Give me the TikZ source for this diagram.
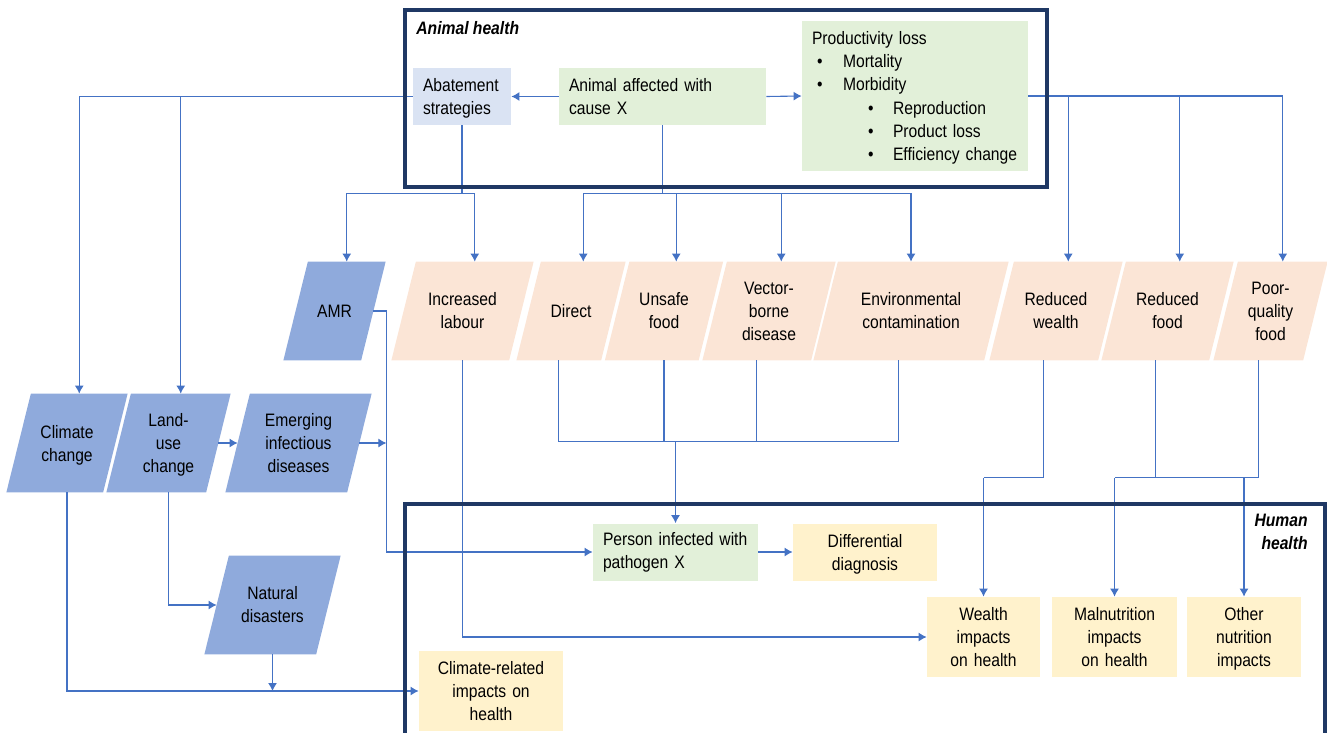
\documentclass[tikz,border=0pt]{standalone}
\usepackage{fontspec}
\setmainfont[FakeStretch=0.87]{Liberation Sans}
\usepackage{tikz}
\usetikzlibrary{shapes.geometric,arrows.meta}
\usetikzlibrary{positioning,backgrounds}
\definecolor{framenavy}{HTML}{1F3864}
\definecolor{linkblue}{HTML}{4472C4}
\definecolor{parablue}{HTML}{8FAADC}
\definecolor{peach}{HTML}{FBE5D6}
\definecolor{boxblue}{HTML}{DAE3F3}
\definecolor{boxgreen}{HTML}{E2F0D9}
\definecolor{boxyellow}{HTML}{FFF2CC}
\tikzset{para/.style={rectangle, minimum width=#1, minimum height=49pt, inner sep=0pt, align=center}}
\tikzstyle{block} = [rectangle, inner xsep=5pt, inner ysep=3pt, minimum height=28.5pt]
\tikzstyle{line} = [draw, linkblue, line width=0.55pt, -{Latex[length=4pt,width=4.5pt]}]
\tikzstyle{link} = [draw, linkblue, line width=0.55pt]
\tikzstyle{frame} = [draw=framenavy, line width=2pt]
% slanted fill behind a para node
\newcommand{\parafill}[2]{\fill[#2] ([xshift=6.125pt]#1.north west) -- ([xshift=6.125pt]#1.north east)
  -- ([xshift=-6.125pt]#1.south east) -- ([xshift=-6.125pt]#1.south west) -- cycle;}

\begin{document}
\begin{tikzpicture}[x=0.5pt, y=-0.5pt, font=\fontsize{9}{11.5}\selectfont]
\useasboundingbox (0,0) rectangle (1327,733);
% Place nodes
\node [block, fill=boxblue, text width=39pt, align=left] (abate) at (462,96.5) {Abatement\\\smash{strategies}};
\node [block, fill=boxgreen, text width=93.5pt, align=left] (animal) at (662.5,96.5) {Animal affected with\\cause X};
\node [block, fill=boxgreen, text width=103pt, minimum height=75pt, align=left,
  font=\fontsize{9}{11.6}\selectfont] (prod) at (915,96) {Productivity loss\\
\hspace*{2.5pt}\makebox[13pt][l]{\textbullet}Mortality\\
\hspace*{2.5pt}\makebox[13pt][l]{\textbullet}Morbidity\\
\hspace*{28pt}\makebox[12.5pt][l]{\textbullet}Reproduction\\
\hspace*{28pt}\makebox[12.5pt][l]{\textbullet}Product loss\\
\hspace*{28pt}\makebox[12.5pt][l]{\textbullet}\smash{Efficiency change}};

\node [para=38.5pt] (amr) at (334.5,311) {AMR};
\node [para=58.5pt] (lab) at (462.5,311) {Increased\\labour};
\node [para=42pt] (direct) at (571,311) {Direct};
\node [para=46.5pt] (unsafe) at (664,311) {Unsafe\\food};
\node [para=54pt] (vector) at (769,311) {Vector-\\borne\\disease};
\node [para=85pt] (env) at (911,311) {Environmental\\contamination};
\node [para=54pt] (rw) at (1056,311) {Reduced\\wealth};
\node [para=53.5pt] (rf) at (1167.5,311) {Reduced\\food};
\node [para=44.5pt] (pq) at (1270.5,311) {Poor-\\quality\\food};

\node [para=48pt] (clim) at (67,443) {Climate\\\smash{change}};
\node [para=49.5pt] (land) at (168.5,443) {Land-\\use\\\smash{change}};
\node [para=60.5pt] (emerg) at (298.5,443) {Emerging\\infectious\\diseases};
\node [para=55.5pt] (nat) at (272.5,605) {Natural\\disasters};

\node [block, fill=boxgreen, text width=72.5pt, align=left] (person) at (675.5,552) {Person infected with\\pathogen X};
\node [block, fill=boxyellow, text width=62pt, align=center] (diff) at (865,552) {Differential\\\smash{diagnosis}};
\node [block, fill=boxyellow, text width=62pt, minimum height=40pt, align=center] (climrel) at (491,691) {Climate-related\\impacts on\\health};
\node [block, fill=boxyellow, text width=46.5pt, minimum height=40pt, align=center] (wealth) at (983.5,637) {Wealth\\impacts\\on health};
\node [block, fill=boxyellow, text width=52.5pt, minimum height=40pt, align=center] (maln) at (1114.5,637) {Malnutrition\\impacts\\on health};
\node [block, fill=boxyellow, text width=47pt, minimum height=40pt, align=center] (other) at (1244,637) {Other\\nutrition\\\smash{impacts}};

\node [anchor=west, inner sep=0pt, font=\fontsize{9}{11.5}\selectfont\bfseries\itshape] (animalhd) at (416,28) {Animal health};
\node [anchor=east, align=right, inner sep=0pt, font=\fontsize{9}{11.5}\selectfont\bfseries\itshape] (humanhd) at (1308,532) {Human\\health};

\begin{scope}[on background layer]
\parafill{amr}{parablue}
\parafill{clim}{parablue}
\parafill{land}{parablue}
\parafill{emerg}{parablue}
\parafill{nat}{parablue}
\parafill{lab}{peach}
\parafill{direct}{peach}
\parafill{unsafe}{peach}
\parafill{vector}{peach}
\parafill{env}{peach}
\parafill{rw}{peach}
\parafill{rf}{peach}
\parafill{pq}{peach}
\end{scope}

\coordinate (abj) at ([yshift=-34pt]abate.south);
\coordinate (anj) at ([yshift=-34pt]animal.south);
\coordinate (amrj) at ([xshift=6.5pt]amr.east);
\coordinate (infj) at ([yshift=41pt]person.north);
\coordinate (wj) at ([yshift=59.5pt]wealth.north);
\coordinate (mj) at ([yshift=59.5pt]maln.north);
\coordinate (oj) at ([yshift=59.5pt]other.north);

% Draw edges
\path [line] (animal.west) -- (abate.east);
\path [line] (animal.east) -- (prod.west);
\path [line] (abate.west) -| ([xshift=6.125pt]clim.north);
\path [line] (abate.west) -| ([xshift=6.125pt]land.north);
\path [link] (abate.south) -- (abj);
\path [line] (abj) -| ([xshift=6.125pt]amr.north);
\path [line] (abj) -| ([xshift=6.125pt]lab.north);
\path [link] (animal.south) -- (anj);
\path [line] (anj) -| ([xshift=6.125pt]direct.north);
\path [line] (anj) -| ([xshift=6.125pt]unsafe.north);
\path [line] (anj) -| ([xshift=6.125pt]vector.north);
\path [line] (anj) -| (env.north);
\path [line] (prod.east) -| ([xshift=6.125pt]rw.north);
\path [line] (prod.east) -| ([xshift=6.125pt]rf.north);
\path [line] (prod.east) -| ([xshift=6.125pt]pq.north);
\path [line] (amr.east) -- (amrj) |- (person.west);
\path [line] (emerg.east) -- (emerg.east -| amrj);
\path [line] (land.east) -- (emerg.west);
\path [line] (land.south) |- (nat.west);
\path [line] (clim.south) |- (climrel.west);
\path [line] (nat.south) -- (nat.south |- climrel.west);
\path [line] (lab.south) |- (wealth.west);
\path [link] ([xshift=-6.125pt]direct.south) |- (infj);
\path [link] (unsafe.south) |- (infj);
\path [link] ([xshift=-6.125pt]vector.south) |- (infj);
\path [link] ([xshift=-6.125pt]env.south) |- (infj);
\path [line] (infj) -- (person.north);
\path [line] (person.east) -- (diff.west);
\path [link] ([xshift=-6.125pt]rw.south) |- (wj);
\path [line] (wj) -- (wealth.north);
\path [link] ([xshift=-6.125pt]rf.south) |- (mj);
\path [link] ([xshift=-6.125pt]pq.south) |- (mj);
\path [line] (mj) -- (maln.north);
\path [line] (oj) -- (other.north);

% Frames
\draw [frame] (405,10) rectangle (1047,187);
\draw [frame] (405,504) rectangle (1325,760);
\end{tikzpicture}
\end{document}
